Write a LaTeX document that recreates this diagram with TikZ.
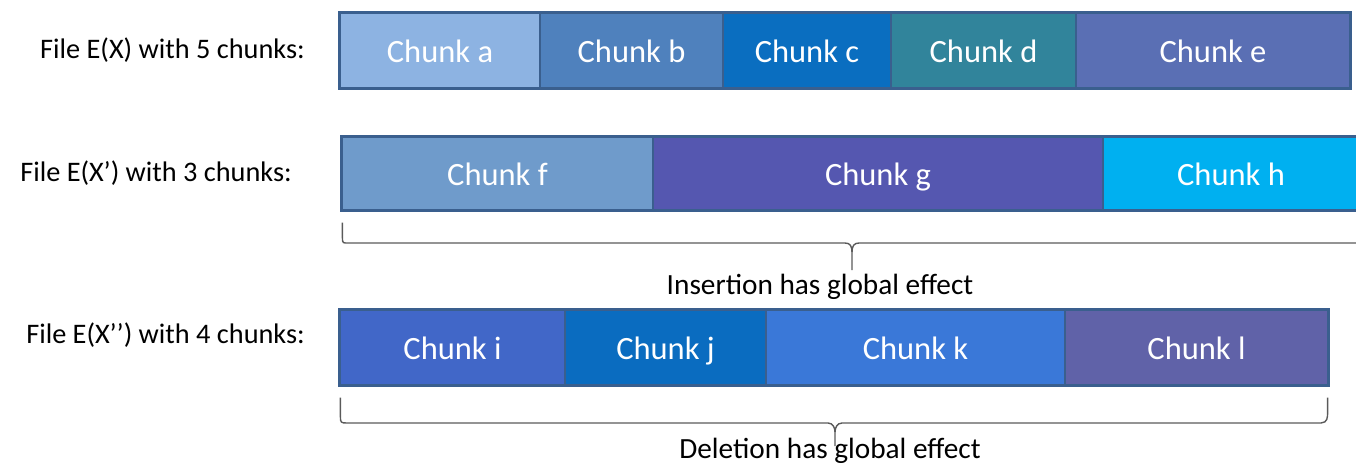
\documentclass[tikz,border=0pt]{standalone}
\usepackage{fontspec}
\setmainfont{Carlito}
\usetikzlibrary{calc}
\definecolor{ca}{HTML}{8DB3E2}
\definecolor{cb}{HTML}{4F81BD}
\definecolor{cc}{HTML}{0A6EC0}
\definecolor{cd}{HTML}{31849B}
\definecolor{ce}{HTML}{5A6FB4}
\definecolor{cf}{HTML}{6F9BCB}
\definecolor{cg}{HTML}{5557B0}
\definecolor{ch}{HTML}{00B0F0}
\definecolor{ci}{HTML}{4167C8}
\definecolor{cj}{HTML}{0A6CC0}
\definecolor{ck}{HTML}{3A78D8}
\definecolor{cl}{HTML}{6062A8}
\definecolor{rowedge}{HTML}{3A5F8E}
\definecolor{bracepen}{HTML}{5A5A5A}
\begin{document}
\begin{tikzpicture}[x=1pt,y=-1pt,
  chunk/.style={draw=rowedge, line width=1.2pt, text=white, inner sep=0pt,
    text height=27pt, text depth=4pt,
    font=\fontsize{32.5}{38}\selectfont},
  rowframe/.style={draw=rowedge, line width=2.4pt},
  rowlabel/.style={anchor=east, inner sep=0pt, text=black,
    font=\fontsize{28.3}{33}\selectfont},
  brace/.style={draw=bracepen, line width=1.4pt},
  note/.style={inner sep=0pt, text=black, font=\fontsize{29.3}{34}\selectfont}]
\useasboundingbox (0,0) rectangle (1356,464);

% file E(X): five chunks
\node[chunk, fill=ca, minimum width=200pt, minimum height=75pt] (a) at (440,50.5) {Chunk a};
\node[chunk, fill=cb, minimum width=183pt, minimum height=75pt] (b) at (631.5,50.5) {Chunk b};
\node[chunk, fill=cc, minimum width=168pt, minimum height=75pt] (c) at (807,50.5) {Chunk c};
\node[chunk, fill=cd, minimum width=185pt, minimum height=75pt] (d) at (983.5,50.5) {Chunk d};
\node[chunk, fill=ce, minimum width=274pt, minimum height=75pt] (e) at (1213,50.5) {Chunk e};
\draw[rowframe] (a.north west) rectangle (e.south east);
\node[rowlabel] (l1) at (305,50) {File E(X) with 5 chunks:};

% file E(X'): three chunks
\node[chunk, fill=cf, minimum width=311pt, minimum height=73pt] (f) at (497.5,173.5) {Chunk f};
\node[chunk, fill=cg, minimum width=450pt, minimum height=73pt] (g) at (878,173.5) {Chunk g};
\node[chunk, fill=ch, minimum width=256pt, minimum height=73pt] (h) at (1231,173.5) {Chunk h};
\draw[rowframe] (f.north west) rectangle (h.south east);
\node[rowlabel] (l2) at (292,173) {File E(X’) with 3 chunks:};

% file E(X''): four chunks
\node[chunk, fill=ci, minimum width=225pt, minimum height=75pt] (i) at (452.5,347.5) {Chunk i};
\node[chunk, fill=cj, minimum width=201pt, minimum height=75pt] (j) at (665.5,347.5) {Chunk j};
\node[chunk, fill=ck, minimum width=299pt, minimum height=75pt] (k) at (915.5,347.5) {Chunk k};
\node[chunk, fill=cl, minimum width=263pt, minimum height=75pt] (l) at (1196.5,347.5) {Chunk l};
\draw[rowframe] (i.north west) rectangle (l.south east);
\node[rowlabel] (l3) at (305,335) {File E(X’’) with 4 chunks:};

% brace under E(X')
\coordinate (b1l) at ($(f.south west)+(1,12)$);
\coordinate (b1t) at (852,270);
\coordinate (b1r) at (1362,243);
\draw[brace] (b1l) -- ++(0,15) .. controls ++(0,6) and ++(-6,0) .. (349,243)
  -- (845,243) .. controls (850,243) and ($(b1t)+(0,-24)$) .. ($(b1t)+(0,-18)$) -- (b1t);
\draw[brace] ($(b1t)+(0,-18)$) .. controls ($(b1t)+(0,-24)$) and (854,243) .. (859,243) -- (b1r);
\node[note] (ins) at (820,287) {Insertion has global effect};

% brace under E(X'')
\coordinate (b2l) at ($(i.south west)+(1,12)$);
\coordinate (b2t) at (835,446);
\coordinate (b2r) at ($(l.south east)+(-1,12)$);
\draw[brace] (b2l) -- ++(0,19) .. controls ++(0,6) and ++(-6,0) .. (347,423)
  -- (828,423) .. controls (833,423) and ($(b2t)+(0,-18)$) .. ($(b2t)+(0,-14)$) -- (b2t);
\draw[brace] ($(b2t)+(0,-14)$) .. controls ($(b2t)+(0,-18)$) and (837,423) .. (842,423)
  -- (1321,423) .. controls ($(b2r)+(0,25)$) and ($(b2r)+(0,20)$) .. ($(b2r)+(0,14)$) -- (b2r);
\node[note] (del) at (830,451) {Deletion has global effect};
\end{tikzpicture}
\end{document}
